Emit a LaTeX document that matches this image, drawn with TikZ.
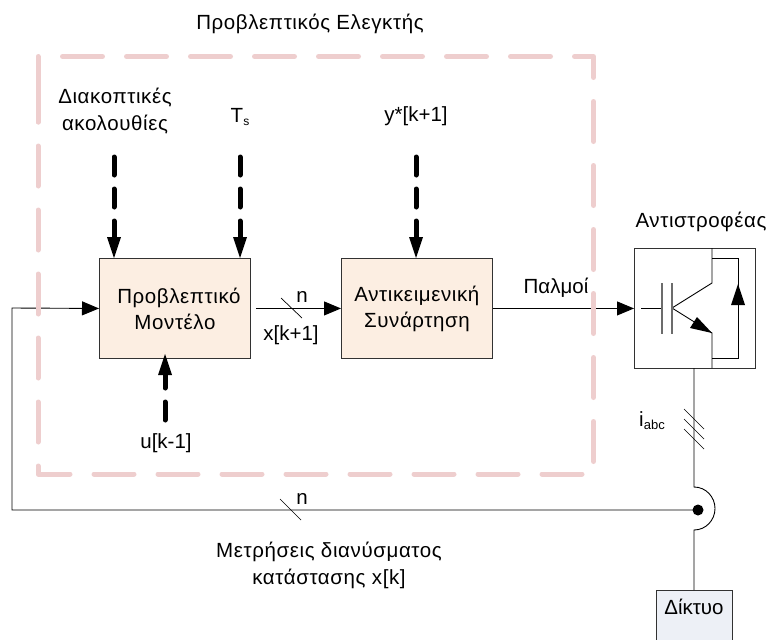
\documentclass[tikz,border=0pt]{standalone}
\usepackage{fontspec}
\setmainfont{Liberation Sans}
\newfontfamily\spacedfont[LetterSpace=3]{Liberation Sans}
\usetikzlibrary{arrows.meta,calc}
\definecolor{boxfill}{RGB}{252,238,226}
\definecolor{gridfill}{RGB}{237,240,246}
\definecolor{dashpink}{RGB}{238,206,206}
\definecolor{linegray}{RGB}{50,50,50}
\tikzset{
  x=1pt,y=-1pt,
  lab/.style={font=\fontsize{20.5}{27}\selectfont,text=black,align=center,inner sep=0pt},
  grk/.style={font=\spacedfont\fontsize{20.5}{27}\selectfont,text=black,align=center,inner sep=0pt},
  block/.style={draw=linegray,line width=0.9pt,fill=boxfill,minimum width=151pt,minimum height=100pt,inner sep=0pt,align=center,font=\spacedfont\fontsize{20.5}{26}\selectfont},
  sig/.style={line width=0.9pt,draw=black,-{Triangle[length=17pt,width=14pt]}},
  wire/.style={line width=0.9pt,draw=black},
  thick dash/.style={line width=5pt,draw=black,line cap=round,dash pattern=on 18pt off 14pt},
  tick/.style={line width=0.7pt,draw=black},
  bighead/.style={fill=black,draw=none}
}
\begin{document}
\begin{tikzpicture}
\useasboundingbox (0,0) rectangle (769,640);
% blocks
\node[block,anchor=north west] (model) at (99,258) {\hspace{8pt}Προβλεπτικό\\Μοντέλο\hspace{3pt}};
\node[block,anchor=north west] (obj) at (341,258) {Αντικειμενική\\Συνάρτηση\hspace{3pt}};
\node[draw=linegray,line width=0.9pt,minimum width=121pt,minimum height=120pt,inner sep=0pt,anchor=north west] (inv) at (634,248) {};
\node[draw=linegray,line width=0.9pt,fill=gridfill,minimum width=76pt,minimum height=60pt,inner sep=0pt,anchor=north west] (grid) at (656,590) {};
% labels
\node[grk] (title) at (310,24) {Προβλεπτικός Ελεγκτής};
\node[grk] (seq) at (115,111) {Διακοπτικές\\ακολουθίες};
\node[lab] (ts) at (240,117) {T\raisebox{-3pt}{\fontsize{12}{14}\selectfont s}};
\node[lab] (ystar) at (416,116) {y*[k+1]};
\node[lab] (uprev) at (166,443) {u[k-1]};
\node[lab] (xnext) at (291,335) {x[k+1]};
\node[lab] (n1) at (302,297) {n};
\node[lab] (pulse) at (556,288) {Παλμοί};
\node[grk] (invlab) at (701,222) {Αντιστροφέας};
\node[lab] (iabc) at (652,421) {i\raisebox{-3pt}{\fontsize{13}{15}\selectfont abc}};
\node[lab] (n2) at (302,499) {n};
\node[grk] (meas) at (329,565) {Μετρήσεις διανύσματος\\κατάστασης x[k]};
\node[lab] (gridlab) at (694,607) {Δίκτυο};
% thick dashed inputs
\coordinate (s1) at (114,157); \coordinate (e1) at (114,258);
\coordinate (s2) at (240,157); \coordinate (e2) at (240,258);
\coordinate (s3) at (416,157); \coordinate (e3) at (416,258);
\coordinate (s4) at (165,420); \coordinate (e4) at (165,354);
\foreach \s/\e in {s1/e1,s2/e2,s3/e3}{
  \draw[thick dash] (\s) -- ($(\e)+(0,-14)$);
  \fill[bighead] (\e) -- ++(-7,-21) -- ++(14,0) -- cycle;
}
\draw[thick dash] (s4) -- ($(e4)+(0,14)$);
\fill[bighead] (e4) -- ++(-7,21) -- ++(14,0) -- cycle;
% signal lines
\draw[sig,shorten <=5pt] (model.east) -- (obj.west);
\draw[sig] (obj.east) -- (inv.west);
\coordinate (dot) at (698,510);
\coordinate (corner1) at (12,510);
\coordinate (corner2) at (12,308);
\draw[sig] (dot) -- (corner1) -- (corner2) -- (model.west);
\fill[black] (dot) circle (5.5pt);
% dashed controller frame, over the lines that cross it
\draw[dashpink,line width=5pt,line cap=round,line join=round,dash pattern=on 40pt off 24pt] (62.5,56.5) -- (593.5,56.5) -- (593.5,474) -- (38,474) -- (38,82);
\draw[dashpink,line width=5pt,line cap=round] (38,122) -- (38,56.5);
% slashes
\draw[tick] (281,298) -- (302,318);
\draw[tick] (280,499) -- (301,520);
% output line with bridge
\coordinate (invb) at (694,368);
\coordinate (ja) at (694,487);
\coordinate (jb) at (694,530);
\coordinate (gridt) at (694,590);
\draw[wire] (invb) -- (ja) .. controls (706,487) and (715,497) .. (715,508.5) .. controls (715,520) and (706,530) .. (jb) -- (gridt);
\foreach \d in {0,10,20}{\draw[tick] (684,409+\d) -- (704,429+\d);}
% IGBT symbol
\coordinate (c1) at (712,248); \coordinate (c2) at (712,283);
\coordinate (b) at (672,308);
\coordinate (em) at (712,333); \coordinate (c3) at (712,368);
\coordinate (dtop) at (712,258); \coordinate (dtr) at (738,258);
\coordinate (dbr) at (738,358); \coordinate (dbot) at (712,358);
\draw[wire] (c1) -- (c2) -- (b) -- (em) -- (c3);
\draw[wire] (dtop) -- (dtr) -- (dbr) -- (dbot);
\draw[wire] (641,308) -- (661,308);
\draw[draw=gray!85!black,line width=1.6pt] (662,283) -- (662,334);
\draw[draw=gray!85!black,line width=1.6pt] (672,283) -- (672,334);
\fill[bighead] (em) -- (697,317) -- (690,328) -- cycle;
\fill[bighead] (738,284) -- (731,305) -- (745,305) -- cycle;
\end{tikzpicture}
\end{document}
